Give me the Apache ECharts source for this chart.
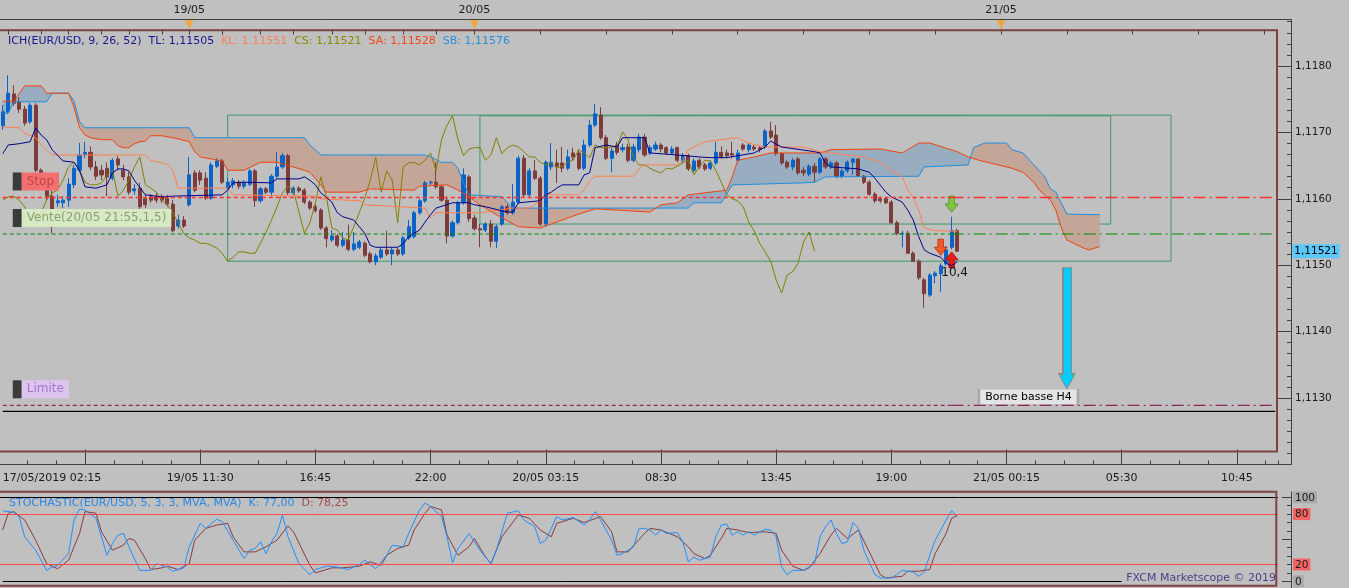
<!DOCTYPE html>
<html>
<head>
<meta charset="utf-8">
<script src="https://cdn.jsdelivr.net/npm/echarts@6/dist/echarts.min.js"></script>
<style>
html,body{margin:0;padding:0;background:#c0c0c0;overflow:hidden;}
#c{width:1349px;height:588px;}
</style>
</head>
<body>
<div id="c"></div>
<script>
// ---------------- DATA ----------------
const sessions = [
  { day: 17, start: '02:15', bars: 34 },
  { day: 19, start: '11:00', bars: 199 }
];
const firstLabel = ['17/05 02:15', '17/05/2019 02:15'];
const bottomTickTimes = ['17/05 06:00','19/05 11:30','19/05 16:45','19/05 22:00','20/05 03:15','20/05 08:30','20/05 13:45','20/05 19:00','21/05 00:15','21/05 05:30','21/05 10:45'];
const bottomTickText  = ['','19/05 11:30','16:45','22:00','20/05 03:15','08:30','13:45','19:00','21/05 00:15','05:30','10:45'];
const dayStarts = [['19/05 11:00','19/05'],['20/05 00:00','20/05'],['21/05 00:00','21/05']];
const topTickIdx = [1,7,12,18,23,29,34,40,47,53,60,66,73,79,86,98,110,122,134,146,158,170,182,194,206,218,230];

// candles: [open, close, low, high]
const candles = [
[1.11710,1.11731,1.11704,1.11741],[1.11731,1.11759,1.11728,1.11786],[1.11758,1.11744,1.11740,1.11771],[1.11746,1.11735,1.11729,1.11753],
[1.11735,1.11714,1.11710,1.11740],[1.11716,1.11741,1.11713,1.11744],[1.11741,1.11643,1.11640,1.11744],[1.11643,1.11628,1.11619,1.11646],
[1.11619,1.11604,1.11598,1.11625],[1.11604,1.11577,1.11548,1.11613],[1.11594,1.11597,1.11588,1.11606],[1.11594,1.11598,1.11586,1.11604],
[1.11598,1.11622,1.11588,1.11631],[1.11621,1.11646,1.11616,1.11651],[1.11643,1.11666,1.11640,1.11684],[1.11666,1.11670,1.11661,1.11686],
[1.11670,1.11648,1.11643,1.11679],[1.11648,1.11634,1.11628,1.11657],[1.11643,1.11636,1.11628,1.11651],[1.11646,1.11633,1.11604,1.11655],
[1.11631,1.11658,1.11628,1.11661],[1.11660,1.11651,1.11643,1.11665],[1.11643,1.11633,1.11628,1.11651],[1.11633,1.11610,1.11606,1.11640],
[1.11612,1.11615,1.11606,1.11622],[1.11616,1.11588,1.11580,1.11624],[1.11600,1.11591,1.11586,1.11607],[1.11603,1.11598,1.11594,1.11607],
[1.11603,1.11598,1.11594,1.11609],[1.11603,1.11598,1.11594,1.11607],[1.11601,1.11592,1.11588,1.11606],[1.11592,1.11552,1.11550,1.11598],
[1.11559,1.11568,1.11555,1.11576],[1.11568,1.11559,1.11556,1.11574],[1.11591,1.11636,1.11588,1.11663],[1.11639,1.11613,1.11610,1.11643],
[1.11639,1.11628,1.11621,1.11643],[1.11631,1.11601,1.11598,1.11640],[1.11601,1.11651,1.11598,1.11655],[1.11649,1.11657,1.11646,1.11661],
[1.11657,1.11625,1.11622,1.11660],[1.11616,1.11625,1.11613,1.11631],[1.11621,1.11627,1.11616,1.11631],[1.11625,1.11619,1.11615,1.11628],
[1.11619,1.11624,1.11615,1.11628],[1.11622,1.11642,1.11619,1.11645],[1.11642,1.11597,1.11588,1.11645],[1.11597,1.11615,1.11594,1.11618],
[1.11615,1.11610,1.11607,1.11618],[1.11610,1.11634,1.11603,1.11637],[1.11634,1.11648,1.11631,1.11670],[1.11648,1.11665,1.11645,1.11669],
[1.11665,1.11609,1.11606,1.11668],[1.11609,1.11616,1.11606,1.11619],[1.11616,1.11612,1.11609,1.11619],[1.11613,1.11595,1.11592,1.11616],
[1.11595,1.11586,1.11583,1.11598],[1.11588,1.11582,1.11579,1.11591],[1.11583,1.11556,1.11553,1.11586],[1.11556,1.11540,1.11527,1.11559],
[1.11538,1.11544,1.11535,1.11553],[1.11544,1.11530,1.11527,1.11547],[1.11530,1.11538,1.11527,1.11550],[1.11538,1.11524,1.11521,1.11561],
[1.11524,1.11532,1.11521,1.11550],[1.11527,1.11535,1.11524,1.11538],[1.11533,1.11515,1.11512,1.11536],[1.11517,1.11505,1.11503,1.11520],
[1.11505,1.11514,1.11500,1.11518],[1.11512,1.11523,1.11509,1.11526],[1.11523,1.11517,1.11514,1.11552],[1.11517,1.11523,1.11500,1.11526],
[1.11523,1.11517,1.11514,1.11526],[1.11517,1.11541,1.11514,1.11544],[1.11541,1.11558,1.11538,1.11568],[1.11543,1.11579,1.11540,1.11582],
[1.11579,1.11597,1.11576,1.11600],[1.11597,1.11624,1.11594,1.11627],[1.11624,1.11625,1.11621,1.11628],[1.11625,1.11618,1.11615,1.11655],
[1.11618,1.11598,1.11595,1.11621],[1.11598,1.11544,1.11533,1.11603],[1.11544,1.11564,1.11541,1.11567],[1.11564,1.11594,1.11561,1.11597],
[1.11594,1.11636,1.11591,1.11646],[1.11633,1.11570,1.11565,1.11636],[1.11571,1.11555,1.11552,1.11576],[1.11555,1.11553,1.11527,1.11562],
[1.11553,1.11562,1.11550,1.11565],[1.11562,1.11536,1.11527,1.11568],[1.11536,1.11558,1.11526,1.11561],[1.11562,1.11588,1.11559,1.11591],
[1.11588,1.11579,1.11576,1.11592],[1.11579,1.11595,1.11576,1.11622],[1.11595,1.11661,1.11592,1.11665],[1.11661,1.11606,1.11603,1.11666],
[1.11606,1.11642,1.11603,1.11646],[1.11642,1.11631,1.11628,1.11658],[1.11631,1.11562,1.11559,1.11634],[1.11562,1.11655,1.11559,1.11658],
[1.11648,1.11655,1.11643,1.11684],[1.11654,1.11649,1.11624,1.11674],[1.11654,1.11646,1.11640,1.11678],[1.11646,1.11663,1.11643,1.11674],
[1.11669,1.11663,1.11658,1.11677],[1.11669,1.11646,1.11643,1.11674],[1.11646,1.11681,1.11643,1.11689],[1.11681,1.11711,1.11678,1.11719],
[1.11711,1.11728,1.11708,1.11743],[1.11726,1.11692,1.11689,1.11738],[1.11692,1.11661,1.11658,1.11696],[1.11661,1.11672,1.11640,1.11677],
[1.11681,1.11670,1.11666,1.11686],[1.11674,1.11677,1.11670,1.11683],[1.11678,1.11658,1.11655,1.11683],[1.11658,1.11678,1.11655,1.11683],
[1.11674,1.11693,1.11670,1.11698],[1.11693,1.11666,1.11663,1.11698],[1.11669,1.11677,1.11666,1.11681],[1.11675,1.11681,1.11672,1.11686],
[1.11681,1.11675,1.11670,1.11684],[1.11677,1.11669,1.11666,1.11679],[1.11669,1.11675,1.11666,1.11679],[1.11677,1.11658,1.11655,1.11679],
[1.11658,1.11665,1.11654,1.11669],[1.11665,1.11645,1.11642,1.11668],[1.11643,1.11657,1.11640,1.11661],[1.11658,1.11648,1.11645,1.11661],
[1.11651,1.11645,1.11642,1.11654],[1.11646,1.11654,1.11643,1.11658],[1.11654,1.11670,1.11651,1.11686],[1.11670,1.11663,1.11660,1.11679],
[1.11669,1.11665,1.11661,1.11674],[1.11668,1.11666,1.11661,1.11686],[1.11658,1.11669,1.11655,1.11674],[1.11681,1.11675,1.11672,1.11684],
[1.11674,1.11681,1.11670,1.11684],[1.11678,1.11675,1.11672,1.11681],[1.11677,1.11674,1.11670,1.11679],[1.11678,1.11702,1.11675,1.11705],
[1.11702,1.11693,1.11690,1.11716],[1.11696,1.11668,1.11665,1.11711],[1.11668,1.11654,1.11651,1.11670],[1.11655,1.11648,1.11645,1.11658],
[1.11648,1.11658,1.11643,1.11661],[1.11660,1.11639,1.11636,1.11663],[1.11643,1.11639,1.11634,1.11648],[1.11637,1.11649,1.11634,1.11652],
[1.11649,1.11640,1.11625,1.11654],[1.11640,1.11660,1.11637,1.11663],[1.11660,1.11648,1.11645,1.11663],[1.11648,1.11654,1.11645,1.11657],
[1.11654,1.11634,1.11631,1.11657],[1.11634,1.11642,1.11631,1.11645],[1.11642,1.11655,1.11639,1.11658],[1.11655,1.11660,1.11636,1.11661],
[1.11660,1.11634,1.11633,1.11661],[1.11634,1.11625,1.11622,1.11636],[1.11625,1.11607,1.11604,1.11628],[1.11607,1.11597,1.11594,1.11610],
[1.11600,1.11597,1.11594,1.11603],[1.11600,1.11594,1.11592,1.11603],[1.11595,1.11564,1.11562,1.11598],[1.11564,1.11548,1.11545,1.11567],
[1.11547,1.11548,1.11527,1.11552],[1.11548,1.11518,1.11517,1.11552],[1.11518,1.11506,1.11505,1.11521],[1.11506,1.11481,1.11478,1.11509],
[1.11478,1.11457,1.11436,1.11481],[1.11455,1.11485,1.11452,1.11488],[1.11484,1.11488,1.11473,1.11491],[1.11487,1.11499,1.11460,1.11503],
[1.11502,1.11523,1.11499,1.11529],[1.11527,1.11552,1.11524,1.11573],[1.11552,1.11521,1.11520,1.11555]
];

// Ichimoku lines: [bar index, price]
const tenkan = [[0,1.11668],[1,1.11681],[3,1.11683],[5,1.11686],[6,1.11707],[7,1.11696],[8,1.11689],[9,1.11674],[11,1.11657],[13,1.11655],[14,1.11643],[15,1.11618],[17,1.11616],[19,1.11621],[20,1.11639],[21,1.11645],[22,1.11645],[23,1.11642],[24,1.11628],[26,1.11606],[29,1.11603],[31,1.11604],[40,1.11606],[41,1.11613],[42,1.11624],[44,1.11625],[49,1.11624],[50,1.11630],[54,1.11630],[55,1.11633],[56,1.11628],[57,1.11621],[58,1.11609],[60,1.11595],[61,1.11579],[62,1.11573],[64,1.11568],[65,1.11558],[66,1.11548],[67,1.11530],[68,1.11527],[72,1.11527],[73,1.11532],[74,1.11543],[76,1.11553],[77,1.11565],[78,1.11576],[79,1.11586],[82,1.11594],[85,1.11594],[86,1.11591],[88,1.11588],[89,1.11586],[92,1.11580],[93,1.11580],[94,1.11594],[98,1.11597],[99,1.11606],[100,1.11610],[101,1.11616],[102,1.11621],[105,1.11621],[106,1.11636],[107,1.11639],[108,1.11677],[110,1.11681],[112,1.11678],[113,1.11692],[117,1.11692],[118,1.11669],[123,1.11666],[127,1.11663],[129,1.11662],[132,1.11662],[137,1.11669],[139,1.11678],[140,1.11687],[142,1.11678],[148,1.11671],[149,1.11669],[150,1.11654],[151,1.11648],[156,1.11645],[158,1.11640],[159,1.11631],[161,1.11610],[162,1.11603],[164,1.11595],[165,1.11583],[166,1.11568],[167,1.11543],[168,1.11523],[169,1.11518],[171,1.11512],[172,1.11503],[173,1.11499],[174,1.11505]];
const kijun = [[0,1.11708],[3,1.11707],[4,1.11699],[6,1.11692],[7,1.11681],[9,1.11666],[26,1.11666],[27,1.11658],[30,1.11652],[31,1.11643],[32,1.11616],[41,1.11616],[42,1.11606],[57,1.11604],[58,1.11600],[65,1.11597],[66,1.11591],[77,1.11586],[78,1.11571],[79,1.11579],[87,1.11579],[93,1.11586],[96,1.11586],[98,1.11597],[99,1.11606],[105,1.11606],[106,1.11613],[107,1.11627],[108,1.11634],[115,1.11634],[116,1.11645],[117,1.11651],[123,1.11651],[124,1.11658],[125,1.11674],[128,1.11686],[134,1.11692],[136,1.11684],[139,1.11678],[146,1.11678],[149,1.11671],[157,1.11663],[160,1.11655],[162,1.11643],[164,1.11633],[165,1.11613],[166,1.11603],[167,1.11583],[168,1.11556],[170,1.11552],[174,1.11551]];
const senkouA = [[0,1.11747],[2,1.11747],[4,1.11770],[7,1.11770],[8,1.11759],[12,1.11759],[13,1.11738],[14,1.11707],[15,1.11696],[16,1.11692],[18,1.11689],[20,1.11689],[21,1.11680],[22,1.11677],[23,1.11677],[24,1.11683],[25,1.11686],[26,1.11687],[27,1.11695],[29,1.11695],[31,1.11692],[34,1.11686],[35,1.11671],[36,1.11663],[40,1.11657],[41,1.11643],[44,1.11643],[47,1.11655],[50,1.11655],[55,1.11643],[56,1.11640],[58,1.11621],[59,1.11610],[65,1.11610],[67,1.11615],[75,1.11613],[76,1.11619],[81,1.11621],[83,1.11613],[85,1.11603],[87,1.11591],[90,1.11576],[94,1.11558],[98,1.11556],[101,1.11565],[105,1.11577],[108,1.11585],[118,1.11580],[120,1.11591],[123,1.11594],[125,1.11606],[132,1.11613],[133,1.11633],[134,1.11658],[137,1.11663],[140,1.11669],[149,1.11669],[151,1.11674],[160,1.11675],[164,1.11669],[167,1.11684],[169,1.11684],[174,1.11671],[176,1.11663],[178,1.11658],[184,1.11646],[186,1.11640],[188,1.11625],[189,1.11613],[191,1.11598],[192,1.11583],[193,1.11556],[194,1.11538],[197,1.11526],[198,1.11523],[200,1.11528]];
const senkouB = [[0,1.11728],[1,1.11729],[2,1.11746],[8,1.11746],[9,1.11759],[12,1.11759],[13,1.11747],[14,1.11716],[15,1.11707],[34,1.11707],[35,1.11692],[55,1.11692],[56,1.11681],[58,1.11666],[77,1.11666],[78,1.11663],[80,1.11655],[82,1.11655],[83,1.11646],[84,1.11624],[85,1.11606],[91,1.11603],[93,1.11586],[125,1.11586],[126,1.11594],[131,1.11594],[133,1.11621],[146,1.11624],[148,1.11625],[150,1.11633],[167,1.11634],[168,1.11648],[176,1.11651],[177,1.11677],[179,1.11684],[183,1.11684],[184,1.11674],[186,1.11669],[188,1.11651],[190,1.11633],[191,1.11615],[192,1.11610],[194,1.11577],[200,1.11576]];
const chikou = [1.11598,1.11603,1.11604,1.11598,1.11588,1.11561,1.11568,1.11579,1.11598,1.11609,1.11613,1.11628,1.11648,1.11655,1.11643,1.11625,1.11621,1.11621,1.11624,1.11636,
1.11643,1.11604,1.11613,1.11628,1.11648,1.11663,1.11621,1.11616,1.11610,1.11598,1.11591,1.11579,1.11564,1.11548,1.11541,1.11538,1.11533,1.11533,1.11530,1.11526,
1.11518,1.11506,1.11512,1.11520,1.11520,1.11518,1.11518,1.11533,1.11550,1.11568,1.11588,1.11609,1.11619,1.11613,1.11580,1.11548,1.11564,1.11594,1.11633,1.11603,
1.11556,1.11553,1.11541,1.11538,1.11558,1.11579,1.11601,1.11628,1.11662,1.11610,1.11642,1.11628,1.11564,1.11648,1.11654,1.11655,1.11651,1.11658,1.11669,1.11643,
1.11689,1.11711,1.11725,1.11689,1.11665,1.11675,1.11677,1.11677,1.11658,1.11666,1.11692,1.11668,1.11677,1.11681,1.11678,1.11671,1.11663,1.11663,1.11655,1.11651,
1.11654,1.11646,1.11649,1.11655,1.11658,1.11674,1.11669,1.11662,1.11681,1.11677,1.11677,1.11678,1.11678,1.11701,1.11689,1.11662,1.11651,1.11651,1.11646,1.11642,
1.11639,1.11646,1.11645,1.11649,1.11654,1.11658,1.11636,1.11648,1.11658,1.11657,1.11643,1.11625,1.11606,1.11600,1.11597,1.11588,1.11565,1.11552,1.11533,1.11520,
1.11506,1.11478,1.11458,1.11485,1.11490,1.11503,1.11535,1.11550,1.11521];

// Stochastic (5,3,3): [bar index, value]
const stochK = [[0,84],[2,82],[3,77],[4,53],[6,37],[8,13],[9,17],[10,19],[12,33],[13,73],[14,86],[15,85],[17,75],[19,31],[20,45],[21,55],[22,57],[23,41],[25,13],[27,13],[28,21],[30,17],[31,12],[33,16],[34,41],[36,69],[37,63],[39,74],[40,71],[42,49],[44,27],[45,37],[46,39],[47,47],[48,33],[49,47],[50,57],[51,79],[52,53],[54,21],[56,8],[57,14],[59,18],[61,17],[63,14],[65,20],[66,25],[68,15],[70,31],[71,43],[73,41],[74,57],[76,85],[77,93],[78,89],[80,77],[81,53],[82,22],[83,39],[85,57],[87,37],[89,21],[90,37],[92,81],[94,84],[95,73],[97,65],[98,45],[99,49],[101,77],[102,73],[104,76],[106,67],[107,73],[108,83],[109,73],[111,49],[112,31],[113,33],[115,41],[116,63],[117,63],[118,61],[119,55],[120,61],[121,57],[123,58],[124,47],[125,23],[126,29],[127,25],[129,29],[130,53],[131,67],[132,68],[133,55],[134,59],[135,55],[136,59],[137,55],[139,62],[140,61],[141,53],[142,17],[143,8],[144,13],[146,13],[148,21],[149,53],[150,65],[151,73],[152,57],[153,45],[154,47],[155,70],[156,63],[157,37],[159,8],[160,4],[162,4],[163,8],[164,13],[166,11],[167,6],[168,11],[169,31],[170,49],[172,73],[173,84],[174,77]];
const stochD = [[0,61],[1,81],[2,83],[4,73],[6,49],[8,21],[10,15],[12,25],[14,57],[15,83],[17,81],[18,59],[20,37],[22,43],[23,51],[24,49],[26,27],[27,14],[29,16],[30,18],[32,14],[34,21],[35,49],[37,63],[39,67],[41,69],[42,53],[44,35],[46,35],[48,41],[50,49],[52,66],[53,59],[56,19],[57,10],[60,16],[62,16],[65,18],[67,23],[69,19],[70,31],[72,39],[74,43],[75,61],[77,81],[78,89],[80,85],[81,55],[83,31],[85,41],[86,51],[88,29],[89,21],[91,53],[94,79],[96,75],[98,61],[100,53],[101,69],[104,75],[106,70],[109,77],[111,59],[112,35],[114,35],[117,57],[118,63],[120,61],[123,53],[125,41],[126,33],[128,27],[129,31],[131,51],[132,63],[134,61],[136,58],[139,59],[141,57],[142,37],[144,18],[146,13],[147,16],[149,33],[151,55],[152,63],[154,51],[156,61],[158,35],[160,8],[161,4],[164,6],[165,12],[167,12],[169,14],[170,33],[172,57],[173,75],[174,78.25]];

// order / annotation levels
const levelStop = 1.11602, levelEntry = 1.11547, levelLimit = 1.11289, levelLowBound = 1.11280, lastPrice = 1.11521;
const levelSplitBar = 173;
const boxes = [[41, 1.11726, 213, 1.11506], [87, 1.11725, 202, 1.11562]];
const targetArrow = [194, 1.11497, 1.11325];
const signalMarks = [[173, 1.11592, 'sell'], [171, 1.11527, 'down'], [173, 1.11508, 'up']];
const pnlMark = [173, 1.11488, '10,4'];
const boundLabel = [187, 1.11302, 'Borne basse H4'];

// ---------------- BUILD ----------------
const FONT = 'DejaVu Sans';
function pad(n) { return (n < 10 ? '0' : '') + n; }
const categories = [];
sessions.forEach(s => {
  const hm = s.start.split(':').map(Number);
  let t = s.day * 1440 + hm[0] * 60 + hm[1];
  for (let k = 0; k < s.bars; k++, t += 15) {
    const d = Math.floor(t / 1440), mm = t % 1440;
    categories.push(pad(d) + '/05 ' + pad(Math.floor(mm / 60)) + ':' + pad(mm % 60));
  }
});
const N = categories.length;
const labelMap = {};
labelMap[firstLabel[0]] = firstLabel[1];
bottomTickTimes.forEach((t, i) => { if (bottomTickText[i]) labelMap[t] = bottomTickText[i]; });
const tickSet = new Set(bottomTickTimes);
const dayMap = {}; dayStarts.forEach(d => dayMap[d[0]] = d[1]);
const topTickSet = new Set(topTickIdx);

function valueAt(pts, x) {
  if (x <= pts[0][0]) return pts[0][1];
  for (let k = 0; k < pts.length - 1; k++) {
    const a = pts[k], b = pts[k + 1];
    if (x <= b[0]) return a[1] + (b[1] - a[1]) * (x - a[0]) / (b[0] - a[0]);
  }
  return pts[pts.length - 1][1];
}
const CLOUD_UP = '#98aec0', CLOUD_DN = '#c4a698';
function cloudRender(params, api) {
  const xs = Array.from(new Set(senkouA.map(p => p[0]).concat(senkouB.map(p => p[0])))).sort((a, b) => a - b);
  const pts = xs.map(x => ({ x: x, a: valueAt(senkouA, x), b: valueAt(senkouB, x) }));
  const regions = [];
  let cur = null;
  for (let k = 0; k < pts.length; k++) {
    const p = pts[k];
    const d = p.a - p.b;
    const s = d > 1e-9 ? 1 : (d < -1e-9 ? -1 : 0);
    const pa = api.coord([p.x, p.a]), pb = api.coord([p.x, p.b]);
    if (!cur) { cur = { s: s, top: [pa], bot: [pb] }; continue; }
    if (s !== 0 && cur.s !== 0 && s !== cur.s) {
      const q = pts[k - 1];
      const d0 = q.a - q.b;
      const t = d0 / (d0 - d);
      const qa = api.coord([q.x, q.a]);
      const c = [qa[0] + (pa[0] - qa[0]) * t, qa[1] + (pa[1] - qa[1]) * t];
      cur.top.push(c); cur.bot.push(c);
      regions.push(cur);
      cur = { s: s, top: [c, pa], bot: [c, pb] };
    } else {
      if (cur.s === 0) cur.s = s;
      cur.top.push(pa); cur.bot.push(pb);
    }
  }
  if (cur) regions.push(cur);
  return {
    type: 'group',
    children: regions.map(r => ({
      type: 'polygon',
      shape: { points: r.top.concat(r.bot.slice().reverse()) },
      style: { fill: r.s >= 0 ? CLOUD_UP : CLOUD_DN, stroke: null }
    }))
  };
}

function tag(text, bg, fg) {
  return {
    show: true, position: 'insideStartTop', distance: [10, 7],
    formatter: '{sq| }{t|' + text + '}',
    rich: {
      sq: { width: 9, height: 18, backgroundColor: '#3a3a3a' },
      t: { height: 18, lineHeight: 18, padding: [0, 5, 0, 5], backgroundColor: bg, color: fg, fontSize: 12, fontFamily: FONT }
    }
  };
}
// horizontal order levels: drawn by a line series through the category/value axes
function levelLine(name, x0, x1, price, color, dash, width) {
  return {
    type: 'line', name: name, xAxisIndex: 0, yAxisIndex: 0, z: 9, silent: true,
    showSymbol: false, symbol: 'none', animation: false,
    data: [[x0, price], [x1, price]],
    lineStyle: { color: color, width: width || 1, type: dash },
    itemStyle: { color: color }
  };
}
function tagSeries(name, price, label) {
  return {
    type: 'line', name: name, xAxisIndex: 0, yAxisIndex: 0, data: [], z: 10, silent: true,
    markLine: {
      silent: true, animation: false, symbol: ['none', 'none'],
      lineStyle: { color: 'rgba(0,0,0,0)', width: 0, type: 'solid' },
      label: label,
      data: [[{ coord: [0, price] }, { coord: [N - 1, price] }]]
    }
  };
}
const DOWN_PATH = 'path://M4,0 L10,0 L10,8 L14,8 L7,16 L0,8 L4,8 Z';
const UP_PATH = 'path://M7,0 L14,8 L10,8 L10,16 L4,16 L4,8 L0,8 Z';
const signalStyle = {
  sell: { symbol: DOWN_PATH, color: '#80c640', border: '#4e8c1e' },
  down: { symbol: DOWN_PATH, color: '#f25a2a', border: '#b83010' },
  up: { symbol: UP_PATH, color: '#e41c1c', border: '#a01010' }
};

const lineBase = { type: 'line', showSymbol: false, symbol: 'none', silent: true, xAxisIndex: 0, yAxisIndex: 0, z: 4, animation: false };

const markPointData = signalMarks.map(s => ({
  coord: [s[0], s[1]], symbol: signalStyle[s[2]].symbol, symbolSize: [13, 16],
  itemStyle: { color: signalStyle[s[2]].color, borderColor: signalStyle[s[2]].border, borderWidth: 0.8 },
  label: { show: false }
})).concat([
  { coord: [pnlMark[0], pnlMark[1]], symbol: 'rect', symbolSize: 1, itemStyle: { color: 'rgba(0,0,0,0)' },
    label: { show: true, position: 'inside', offset: [3, 0], formatter: pnlMark[2], color: '#111', fontSize: 12, fontFamily: FONT } },
  { coord: [boundLabel[0], boundLabel[1]], symbol: 'rect', symbolSize: [99, 15], itemStyle: { color: '#e4e4e4', borderColor: '#a8a8a8', borderWidth: 1 },
    label: { show: true, position: 'inside', formatter: boundLabel[2], color: '#000', fontSize: 11, fontFamily: FONT } }
]);

const DASH = [4, 3], DASHDOT = [12, 4, 2, 4];
const STOP_COLOR = '#ff3030', ENTRY_COLOR = '#008a00', LIMIT_COLOR = '#800040';
const levelSeries = [
  levelLine('stopL', 0, levelSplitBar, levelStop, STOP_COLOR, DASH, 1.6),
  levelLine('stopR', levelSplitBar, N - 1, levelStop, STOP_COLOR, DASHDOT, 1.6),
  levelLine('entryL', 0, levelSplitBar, levelEntry, ENTRY_COLOR, DASH),
  levelLine('entryR', levelSplitBar, N - 1, levelEntry, ENTRY_COLOR, DASHDOT),
  levelLine('limitL', 0, levelSplitBar, levelLimit, LIMIT_COLOR, DASH),
  levelLine('limitR', levelSplitBar, N - 1, levelLimit, LIMIT_COLOR, DASHDOT),
  levelLine('lowBound', 0, N - 1, levelLowBound, '#000000', 'solid', 1.2),
  tagSeries('stopTag', levelStop, tag('Stop', '#f27070', '#c84444')),
  tagSeries('entryTag', levelEntry, tag('Vente(20/05 21:55,1,5)', '#d6e9c4', '#8c9f6c')),
  tagSeries('limitTag', levelLimit, tag('Limite', '#dcc6ee', '#a676cc')),
  tagSeries('last', lastPrice,
    { show: true, position: 'end', distance: 17, formatter: '1,11521', backgroundColor: '#5cc8fa', color: '#000', padding: [2, 2, 1, 2], fontSize: 10.5, fontFamily: FONT })
];

const option = {
  backgroundColor: '#c0c0c0',
  animation: false,
  textStyle: { fontFamily: FONT },
  title: [
    { left: 8, top: 35.5, padding: 0,
      text: '{a|ICH(EUR/USD, 9, 26, 52)}  {a|TL: 1,11505}  {c|KL: 1,11551}  {d|CS: 1,11521}  {e|SA: 1,11528}  {f|SB: 1,11576}',
      textStyle: { fontSize: 11, fontFamily: FONT, fontWeight: 'normal', rich: {
        a: { color: '#16168e', fontSize: 11, fontFamily: FONT },
        c: { color: '#f8825a', fontSize: 11, fontFamily: FONT },
        d: { color: '#8a8a00', fontSize: 11, fontFamily: FONT },
        e: { color: '#f04818', fontSize: 11, fontFamily: FONT },
        f: { color: '#2890dc', fontSize: 11, fontFamily: FONT } } } },
    { left: 9, top: 497.5, padding: 0,
      text: '{a|STOCHASTIC(EUR/USD, 5, 3, 3, MVA, MVA)}  {a|K: 77,00}  {b|D: 78,25}',
      textStyle: { fontSize: 11, fontFamily: FONT, fontWeight: 'normal', rich: {
        a: { color: '#2a88e6', fontSize: 11, fontFamily: FONT },
        b: { color: '#a24c4c', fontSize: 11, fontFamily: FONT } } } },
    { right: 73, top: 572.5, padding: 0, text: 'FXCM Marketscope © 2019',
      textStyle: { fontSize: 11, fontFamily: FONT, fontWeight: 'normal', color: '#4b3f8c' } }
  ],
  grid: [
    { left: 0, top: -0.4, width: 1278, height: 464.8, containLabel: false, outerBoundsMode: 'none', show: false },
    { left: 0, top: 497.3, width: 1278, height: 84, containLabel: false, outerBoundsMode: 'none', show: false },
    { left: -1.37, top: -0.4, width: 1279.37, height: 464.8, containLabel: false, outerBoundsMode: 'none', show: false },
    { left: 0, top: 19.5, width: 1278, height: 10, containLabel: false, outerBoundsMode: 'none', show: false }
  ],
  xAxis: [
    { type: 'category', gridIndex: 0, data: categories, boundaryGap: true, position: 'bottom',
      axisLine: { show: false },
      axisTick: { show: true, inside: true, length: 15, alignWithLabel: true, interval: (i, v) => tickSet.has(v), lineStyle: { color: '#404040', width: 1 } },
      axisLabel: { show: true, interval: (i, v) => labelMap[v] !== undefined, formatter: v => labelMap[v] || '', margin: 8, color: '#1a1a1a', fontSize: 11, fontFamily: FONT, alignMinLabel: 'left' },
      splitLine: { show: false } },
    { type: 'category', gridIndex: 1, data: categories, boundaryGap: true, show: false },
    { type: 'value', gridIndex: 2, min: 0, max: 233.25, interval: 5.25, position: 'bottom',
      axisLine: { show: false }, axisLabel: { show: false }, splitLine: { show: false },
      axisTick: { show: true, inside: true, length: 4, lineStyle: { color: '#404040', width: 1 } } },
    { type: 'category', gridIndex: 3, data: categories, boundaryGap: true, position: 'top',
      axisLine: { show: false },
      axisTick: { show: true, inside: true, length: 5, alignWithLabel: true, interval: (i) => topTickSet.has(i), lineStyle: { color: '#404040', width: 1 } },
      axisLabel: { show: true, interval: (i, v) => dayMap[v] !== undefined, formatter: v => dayMap[v] || '', margin: 4, color: '#1a1a1a', fontSize: 11, fontFamily: FONT },
      splitLine: { show: false } }
  ],
  yAxis: [
    { type: 'value', gridIndex: 0, min: 1.1120, max: 1.1190, interval: 0.001, position: 'right', offset: 13,
      axisLine: { show: false }, splitLine: { show: false }, axisPointer: { show: false },
      axisTick: { show: true, inside: true, length: 13, lineStyle: { color: '#404040', width: 1 } },
      minorTick: { show: true, splitNumber: 6, length: 4, lineStyle: { color: '#404040', width: 1 } },
      axisLabel: { show: true, inside: false, margin: 4, color: '#1a1a1a', fontSize: 10.5, fontFamily: FONT, showMinLabel: false, showMaxLabel: false,
        formatter: v => v.toFixed(4).replace('.', ',') } },
    { type: 'value', gridIndex: 1, min: 0, max: 100, interval: 50, position: 'right', offset: 13,
      axisLine: { show: false }, splitLine: { show: false }, axisLabel: { show: false },
      axisTick: { show: true, inside: true, length: 9, lineStyle: { color: '#404040', width: 1 } },
      minorTick: { show: true, splitNumber: 5, length: 4, lineStyle: { color: '#404040', width: 1 } } },
    { type: 'value', gridIndex: 1, min: 0, max: 100, interval: 10, position: 'right', offset: 13,
      axisLine: { show: false }, splitLine: { show: false }, axisTick: { show: false },
      axisLabel: { show: true, margin: 2, color: '#1a1a1a', fontSize: 10.5, fontFamily: FONT,
        formatter: v => v === 100 ? '{g|100}' : v === 80 ? '{r|80}' : v === 20 ? '{r|20}' : v === 0 ? '{g|0}' : '',
        rich: { g: { backgroundColor: '#a9a9a9', padding: [1, 2, 0, 2], fontSize: 10.5, fontFamily: FONT, color: '#1a1a1a' },
                r: { backgroundColor: '#f46464', padding: [1, 2, 0, 2], fontSize: 10.5, fontFamily: FONT, color: '#1a1a1a' } } } },
    { type: 'value', gridIndex: 2, show: false, min: 0, max: 1 },
    { type: 'value', gridIndex: 3, show: false, min: 0, max: 1 }
  ],
  series: [
    { type: 'custom', name: 'cloud', xAxisIndex: 0, yAxisIndex: 0, z: 1, silent: true, clip: false,
      data: [[0, senkouA[0][1]]], renderItem: cloudRender },
    Object.assign({}, lineBase, { name: 'CS', data: chikou, lineStyle: { color: '#808000', width: 1 }, itemStyle: { color: '#808000' } }),
    Object.assign({}, lineBase, { name: 'SB', data: senkouB, lineStyle: { color: '#1e8ee0', width: 1 }, itemStyle: { color: '#1e8ee0' } }),
    Object.assign({}, lineBase, { name: 'SA', data: senkouA, lineStyle: { color: '#f0420e', width: 1 }, itemStyle: { color: '#f0420e' } }),
    Object.assign({}, lineBase, { name: 'KL', data: kijun, lineStyle: { color: '#ff7f50', width: 1 }, itemStyle: { color: '#ff7f50' } }),
    { type: 'candlestick', name: 'EUR/USD', xAxisIndex: 0, yAxisIndex: 0, z: 3, silent: true, barWidth: 3.6,
      data: candles,
      itemStyle: { color: '#0a64c8', color0: '#7d3c3c', borderColor: '#0a64c8', borderColor0: '#7d3c3c', borderWidth: 1 } },
    Object.assign({}, lineBase, { name: 'TL', data: tenkan, z: 5, lineStyle: { color: '#00008b', width: 1 }, itemStyle: { color: '#00008b' } }),
    { type: 'line', name: 'overlay', xAxisIndex: 0, yAxisIndex: 0, data: [], z: 10, silent: true,
      markArea: { silent: true, label: { show: false },
        itemStyle: { color: 'rgba(0,0,0,0)', borderColor: '#3c9a6a', borderWidth: 1 },
        data: boxes.map(b => [{ coord: [b[0], b[1]] }, { coord: [b[2], b[3]] }]) },
      markLine: { silent: true, symbol: ['none', 'none'], animation: false, label: { show: false },
        data: [
          [{ coord: [targetArrow[0], targetArrow[1]], symbol: 'none', lineStyle: { color: '#8a8a8a', width: 10, type: 'solid' } },
           { coord: [targetArrow[0], targetArrow[2]], symbol: 'triangle', symbolSize: [18, 17] }],
          [{ coord: [targetArrow[0], targetArrow[1] - 0.000015], symbol: 'none', lineStyle: { color: '#00ccff', width: 7, type: 'solid' } },
           { coord: [targetArrow[0], targetArrow[2]], symbol: 'triangle', symbolSize: [14, 13] }]
        ] },
      markPoint: { silent: true, animation: false, data: markPointData } }
  ].concat(levelSeries).concat([
    { type: 'line', name: 'K', xAxisIndex: 1, yAxisIndex: 1, data: stochK, showSymbol: false, symbol: 'none', silent: true, z: 4,
      lineStyle: { color: '#1e90ff', width: 1 }, itemStyle: { color: '#1e90ff' },
      markLine: { silent: true, symbol: ['none', 'none'], animation: false, label: { show: false },
        data: [
          { yAxis: 80, lineStyle: { color: '#ff4a4a', width: 1, type: 'solid' } },
          { yAxis: 20, lineStyle: { color: '#ff4a4a', width: 1, type: 'solid' } },
          { yAxis: 100, lineStyle: { color: '#000000', width: 1, type: 'solid' } },
          [{ coord: [0, 0], lineStyle: { color: '#000000', width: 1, type: 'solid' } }, { coord: [204, 0] }]
        ] } },
    { type: 'line', name: 'D', xAxisIndex: 1, yAxisIndex: 1, data: stochD, showSymbol: false, symbol: 'none', silent: true, z: 3,
      lineStyle: { color: '#8b3a3a', width: 1 }, itemStyle: { color: '#8b3a3a' } },
    { type: 'scatter', name: 'days', xAxisIndex: 3, yAxisIndex: 4, silent: true, z: 20,
      data: dayStarts.map(d => [d[0], 0.5]), symbol: 'triangle', symbolRotate: 180, symbolSize: [9, 10],
      itemStyle: { color: '#f7a21e' } }
  ]),
  graphic: [
    { type: 'rect', z: 40, silent: true, shape: { x: 1279, y: 0, width: 70, height: 19 }, style: { fill: '#c0c0c0', stroke: null } },
    { type: 'polyline', z: 50, silent: true, shape: { points: [[0, 19.5], [1291.5, 19.5], [1291.5, 464.5], [0, 464.5]] }, style: { stroke: '#404040', lineWidth: 1, fill: null } },
    { type: 'rect', z: 50, silent: true, shape: { x: -3, y: 30.3, width: 1280, height: 421.2 }, style: { stroke: '#7d4242', lineWidth: 2, fill: null } },
    { type: 'rect', z: 50, silent: true, shape: { x: -3, y: 491.8, width: 1279.3, height: 94 }, style: { stroke: '#7d4242', lineWidth: 2, fill: null } },
    { type: 'line', z: 50, silent: true, shape: { x1: 1291.5, y1: 491.5, x2: 1291.5, y2: 588 }, style: { stroke: '#404040', lineWidth: 1 } }
  ]
};

const chart = echarts.init(document.getElementById('c'), null, { renderer: 'canvas', width: 1349, height: 588 });
chart.setOption(option);
</script>
</body>
</html>
